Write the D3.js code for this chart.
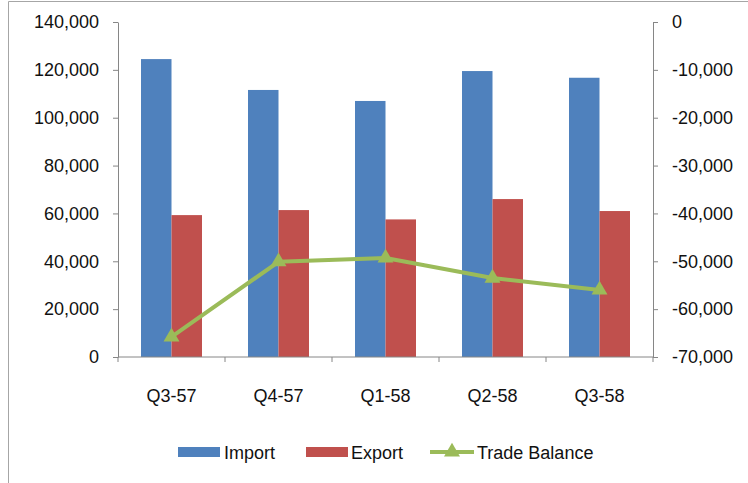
<!DOCTYPE html>
<html>
<head>
<meta charset="utf-8">
<script src="https://cdn.jsdelivr.net/npm/d3@7"></script>
<style>
  body { margin: 0; background: #fff; }
  svg { display: block; font-family: "Liberation Sans", Arial, sans-serif; }
  .axis path, .axis line { stroke: #868686; }
  .axis text { fill: #111; font-size: 18px; }
</style>
</head>
<body>
<div class="chart"></div>
<script>
// values
const categories = ['Q3-57', 'Q4-57', 'Q1-58', 'Q2-58', 'Q3-58'];
const importVals = [124500, 111600, 107000, 119500, 116700];
const exportVals = [59300, 61400, 57500, 66000, 61000];
const balanceVals = [-65800, -50100, -49300, -53500, -56000];
const leftTicks = [0, 20000, 40000, 60000, 80000, 100000, 120000, 140000];
const rightTicks = [0, -10000, -20000, -30000, -40000, -50000, -60000, -70000];

const W = 748, H = 483;
const margin = {top: 22, right: 95, bottom: 126, left: 118};
const width = W - margin.left - margin.right,
      height = H - margin.top - margin.bottom;

const svg = d3.select('.chart').append('svg')
    .attr('width', W)
    .attr('height', H);

// outer frame (only left & top edges visible in picture)
svg.append('path')
    .attr('d', 'M8.5,' + H + 'V1.5H' + W)
    .attr('fill', 'none')
    .attr('stroke', '#a6a6a6');

const g = svg.append('g')
    .attr('transform', 'translate(' + margin.left + ',' + margin.top + ')');

const x = d3.scaleBand().domain(categories).range([0, width]);
const x1 = d3.scaleBand().domain(['imp', 'exp']).range([23, x.bandwidth() - 23]);
const yL = d3.scaleLinear().domain([0, 140000]).range([height, 0]);
const yR = d3.scaleLinear().domain([-70000, 0]).range([height, 0]);

// plain hyphen for negatives, like the original
const fmt = d => d3.format(',')(d).replace('\u2212', '-');

// bars
const groups = g.selectAll('.grp')
    .data(categories)
    .enter().append('g')
    .attr('transform', d => 'translate(' + x(d) + ',0)');

groups.append('rect')
    .attr('x', x1('imp'))
    .attr('width', x1.bandwidth())
    .attr('y', (d, i) => yL(importVals[i]))
    .attr('height', (d, i) => height - yL(importVals[i]))
    .attr('fill', '#4f81bd');

groups.append('rect')
    .attr('x', x1('exp'))
    .attr('width', x1.bandwidth())
    .attr('y', (d, i) => yL(exportVals[i]))
    .attr('height', (d, i) => height - yL(exportVals[i]))
    .attr('fill', '#c0504d');

// axes
g.append('g').attr('class', 'axis')
    .call(d3.axisLeft(yL).tickValues(leftTicks).tickFormat(fmt).tickSize(5).tickPadding(14).tickSizeOuter(0));

g.append('g').attr('class', 'axis')
    .attr('transform', 'translate(' + width + ',0)')
    .call(d3.axisRight(yR).tickValues(rightTicks).tickFormat(fmt).tickSize(5).tickPadding(14).tickSizeOuter(0));

const xAxis = g.append('g').attr('class', 'axis')
    .attr('transform', 'translate(0,' + height + ')');
xAxis.append('line')
    .attr('x1', 0).attr('x2', width)
    .attr('stroke', '#868686');
const bounds = categories.map(c => x(c)).concat([width]);
xAxis.selectAll('.xt')
    .data(bounds)
    .enter().append('line')
    .attr('x1', d => d).attr('x2', d => d)
    .attr('y1', 0).attr('y2', 5)
    .attr('stroke', '#868686');
xAxis.selectAll('.xl')
    .data(categories)
    .enter().append('text')
    .attr('x', d => x(d) + x.bandwidth() / 2)
    .attr('y', 45)
    .attr('text-anchor', 'middle')
    .text(d => d);

// trade balance line
const line = d3.line()
    .x((d, i) => x(categories[i]) + x.bandwidth() / 2)
    .y(d => yR(d));

g.append('path')
    .datum(balanceVals)
    .attr('d', line)
    .attr('fill', 'none')
    .attr('stroke', '#9bbb59')
    .attr('stroke-width', 4)
    .attr('stroke-linejoin', 'round');

const tri = d3.symbol().type(d3.symbolTriangle).size(110);
g.selectAll('.mk')
    .data(balanceVals)
    .enter().append('path')
    .attr('d', tri)
    .attr('fill', '#9bbb59')
    .attr('transform', (d, i) => 'translate(' + (x(categories[i]) + x.bandwidth() / 2) + ',' + yR(d) + ')');

// legend
const leg = svg.append('g')
    .attr('transform', 'translate(0,452)')
    .style('font-size', '18px')
    .attr('fill', '#111');

leg.append('rect').attr('x', 178).attr('y', -5).attr('width', 42).attr('height', 10).attr('fill', '#4f81bd');
leg.append('text').attr('x', 224).attr('y', 6.5).text('Import');
leg.append('rect').attr('x', 306).attr('y', -5).attr('width', 42).attr('height', 10).attr('fill', '#c0504d');
leg.append('text').attr('x', 351).attr('y', 6.5).text('Export');
leg.append('line').attr('x1', 430).attr('x2', 474).attr('stroke', '#9bbb59').attr('stroke-width', 4);
leg.append('path').attr('d', tri).attr('fill', '#9bbb59').attr('transform', 'translate(452,0)');
leg.append('text').attr('x', 477).attr('y', 6.5).text('Trade Balance');
</script>
</body>
</html>
